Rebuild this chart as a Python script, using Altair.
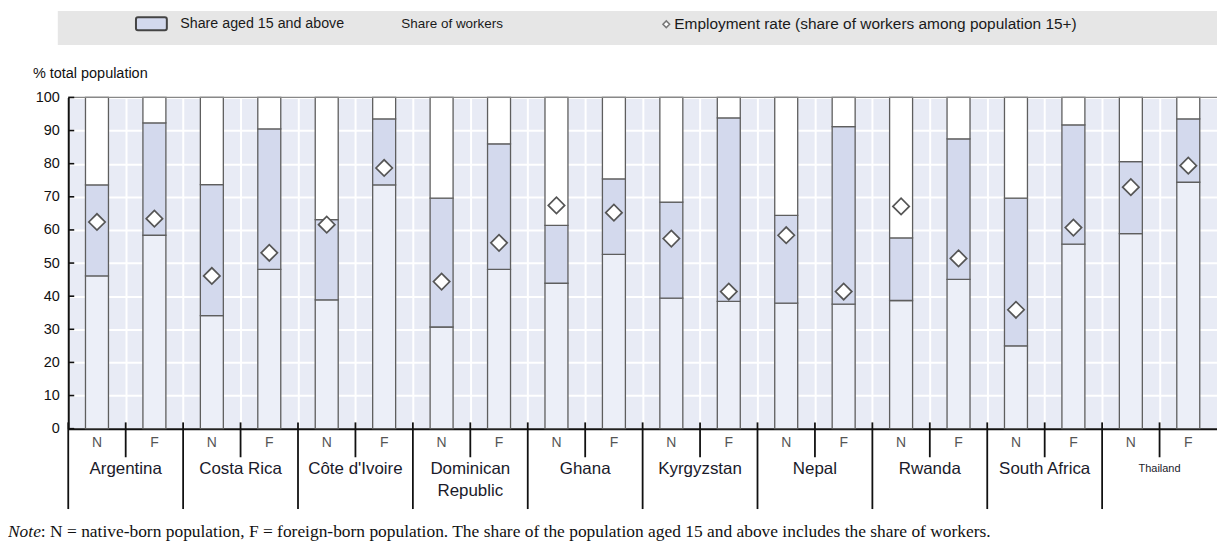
import altair as alt
import pandas as pd

# ---------------- data ----------------
countries = ["Argentina", "Costa Rica", "Côte d'Ivoire", "Dominican\nRepublic", "Ghana",
             "Kyrgyzstan", "Nepal", "Rwanda", "South Africa", "Thailand"]
origins = ["N", "F"]
aged15_N = [73.6, 73.7, 63.1, 69.6, 61.4, 68.4, 64.4, 57.6, 69.6, 80.6]
aged15_F = [92.3, 90.5, 93.5, 86.0, 75.4, 93.8, 91.2, 87.5, 91.7, 93.5]
workers_N = [46.1, 34.1, 38.9, 30.7, 43.9, 39.4, 37.9, 38.7, 25.0, 58.9]
workers_F = [58.4, 48.1, 73.6, 48.1, 52.6, 38.4, 37.6, 45.1, 55.7, 74.4]
emprate_N = [62.4, 46.1, 61.6, 44.4, 67.4, 57.4, 58.4, 67.1, 35.9, 72.9]
emprate_F = [63.4, 53.1, 78.7, 56.1, 65.2, 41.4, 41.4, 51.4, 60.7, 79.4]
y_ticks = list(range(0, 101, 10))
legend_labels = ["Share aged 15 and above", "Share of workers",
                 "Employment rate (share of workers among population 15+)"]
note_label = "Note"
note_text = (": N = native-born population, F = foreign-born population. "
             "The share of the population aged 15 and above includes the share of workers.")
y_title = "% total population"

rows = []
for ci, c in enumerate(countries):
    for oi, o in enumerate(origins):
        rows.append(dict(
            country=c, origin=o, idx=2 * ci + oi,
            aged=aged15_N[ci] if o == "N" else aged15_F[ci],
            workers=workers_N[ci] if o == "N" else workers_F[ci],
            emp=emprate_N[ci] if o == "N" else emprate_F[ci],
        ))
df = pd.DataFrame(rows)
n_slots = len(df)

cdf = pd.DataFrame({"country": countries,
                    "pos": [2 * i + 1 for i in range(len(countries))],
                    "fs": [11 if c == "Thailand" else 17 for c in countries]})
sep_long = pd.DataFrame({"pos": [2 * i for i in range(len(countries))]})
sep_short = pd.DataFrame({"pos": [2 * i + 1 for i in range(len(countries))]})
tick_df = pd.DataFrame({"v": y_ticks})
one = pd.DataFrame({"a": [0]})

# ---------------- styling ----------------
W, H = 1153.5, 332.6
BG = "#e8ebf5"
MID = "#d3d9ed"
LOW = "#eceff8"
EDGE = "#5e5e5e"
SANS = "Liberation Sans"
SERIF = "Liberation Serif"

xs = alt.Scale(domain=[0, n_slots], nice=False, zero=False)
ys = alt.Scale(domain=[0, 100], nice=False)

x_axis = alt.Axis(values=list(range(0, n_slots + 1)), grid=True, gridColor="white",
                  gridWidth=2, labels=False, ticks=False, title=None, domain=True,
                  domainColor="#111", domainWidth=2)
y_axis = alt.Axis(values=y_ticks, grid=True, gridColor="white", gridWidth=2, ticks=False,
                  tickSize=0, labelPadding=9, labelFont=SANS, labelFontSize=14.5,
                  labelColor="#111", title=None, domain=True, domainColor="#111",
                  domainWidth=2)

base = alt.Chart(df).transform_calculate(
    xa="datum.idx + 0.3", xb="datum.idx + 0.7", xc="datum.idx + 0.5",
    zero="0", full="100")

bottom = base.mark_rect(fill=LOW, stroke=EDGE, strokeWidth=1.3).encode(
    x=alt.X("xa:Q", scale=xs, axis=x_axis), x2="xb:Q",
    y=alt.Y("zero:Q", scale=ys, axis=y_axis), y2="workers:Q")
middle = base.mark_rect(fill=MID, stroke=EDGE, strokeWidth=1.3).encode(
    x=alt.X("xa:Q", scale=xs, axis=x_axis), x2="xb:Q",
    y=alt.Y("workers:Q", scale=ys, axis=y_axis), y2="aged:Q")
top = base.mark_rect(fill="white", stroke=EDGE, strokeWidth=1.3).encode(
    x=alt.X("xa:Q", scale=xs, axis=x_axis), x2="xb:Q",
    y=alt.Y("aged:Q", scale=ys, axis=y_axis), y2="full:Q")
diamonds = base.mark_point(shape="diamond", filled=True, fill="white", stroke="#555",
                           strokeWidth=1.7, size=270, opacity=1).encode(
    x=alt.X("xc:Q", scale=xs, axis=x_axis),
    y=alt.Y("emp:Q", scale=ys, axis=y_axis))

top_line = alt.Chart(one).mark_rule(color="#888", strokeWidth=1.3).encode(
    x=alt.value(0), x2=alt.value(W), y=alt.value(0))
yticks = alt.Chart(tick_df).mark_rule(color="#111", strokeWidth=1.6).encode(
    x=alt.value(0), x2=alt.value(6), y=alt.Y("v:Q", scale=ys, axis=y_axis))

long_sep = alt.Chart(sep_long).mark_rule(color="#111", strokeWidth=1.8).encode(
    x=alt.X("pos:Q", scale=xs, axis=x_axis), y=alt.value(326.3), y2=alt.value(413.3))
short_sep = alt.Chart(sep_short).mark_rule(color="#111", strokeWidth=1.8).encode(
    x=alt.X("pos:Q", scale=xs, axis=x_axis), y=alt.value(326.3), y2=alt.value(361.3))

nf_labels = base.mark_text(font=SANS, fontSize=14, color="#555", baseline="middle").encode(
    x=alt.X("xc:Q", scale=xs, axis=x_axis), y=alt.value(347.3), text="origin:N")
country_labels = alt.Chart(cdf).mark_text(font=SANS, color="#1a1a2a", baseline="middle",
                                          lineBreak="\n", lineHeight=22).encode(
    x=alt.X("pos:Q", scale=xs, axis=x_axis), y=alt.value(373.3), text="country:N",
    size=alt.Size("fs:Q", scale=None, legend=None))

# ---------------- manual legend / titles / note ----------------
leg_box = alt.Chart(one).mark_rect(fill="#e6e6e6").encode(
    x=alt.value(-10.5), x2=alt.value(W), y=alt.value(-86.7), y2=alt.value(-52.7))
leg_swatch = alt.Chart(one).mark_rect(fill=MID, stroke="#444", strokeWidth=2,
                                      cornerRadius=2).encode(
    x=alt.value(68), x2=alt.value(99), y=alt.value(-80.5), y2=alt.value(-67.5))
leg_diamond = alt.Chart(one).mark_point(shape="diamond", filled=True, fill="white",
                                        stroke="#777", strokeWidth=1.5, size=45,
                                        opacity=1).encode(
    x=alt.value(600.5), y=alt.value(-73.5))
leg_df = pd.DataFrame({"label": legend_labels, "k": [0, 1, 2]})
leg_text = []
for k, xpos, fs in [(0, 112.5, 14.3), (1, 334.5, 13.5), (2, 608.5, 15.5)]:
    leg_text.append(alt.Chart(leg_df).transform_filter(f"datum.k == {k}").mark_text(
        font=SANS, fontSize=fs, color="#1a1a1a", align="left", baseline="middle").encode(
        x=alt.value(xpos), y=alt.value(-73.5), text="label:N"))

ytitle = alt.Chart(pd.DataFrame({"t": [y_title]})).mark_text(
    font=SANS, fontSize=14.5, color="#111", align="left", baseline="middle").encode(
    x=alt.value(-35.5), y=alt.value(-23.7), text="t:N")

note1 = alt.Chart(pd.DataFrame({"t": [note_label]})).mark_text(
    font=SERIF, fontSize=17.5, fontStyle="italic", color="#111", align="left",
    baseline="middle").encode(x=alt.value(-60.5), y=alt.value(436.3), text="t:N")
note2 = alt.Chart(pd.DataFrame({"t": [note_text]})).mark_text(
    font=SERIF, fontSize=17.5, color="#111", align="left", baseline="middle").encode(
    x=alt.value(-27.5), y=alt.value(436.3), text="t:N")

chart = alt.layer(
    bottom, middle, top, diamonds, top_line, yticks, long_sep, short_sep,
    nf_labels, country_labels, leg_box, leg_swatch, leg_diamond, *leg_text,
    ytitle, note1, note2,
).properties(
    width=W, height=H,
    autosize=alt.AutoSizeParams(type="none"),
    padding={"left": 60.5, "top": 88.7, "right": 0, "bottom": 116},
    background="white",
).configure_view(stroke=None, fill=BG)

chart.save("out.html", embed_options={"renderer": "svg", "actions": False})
